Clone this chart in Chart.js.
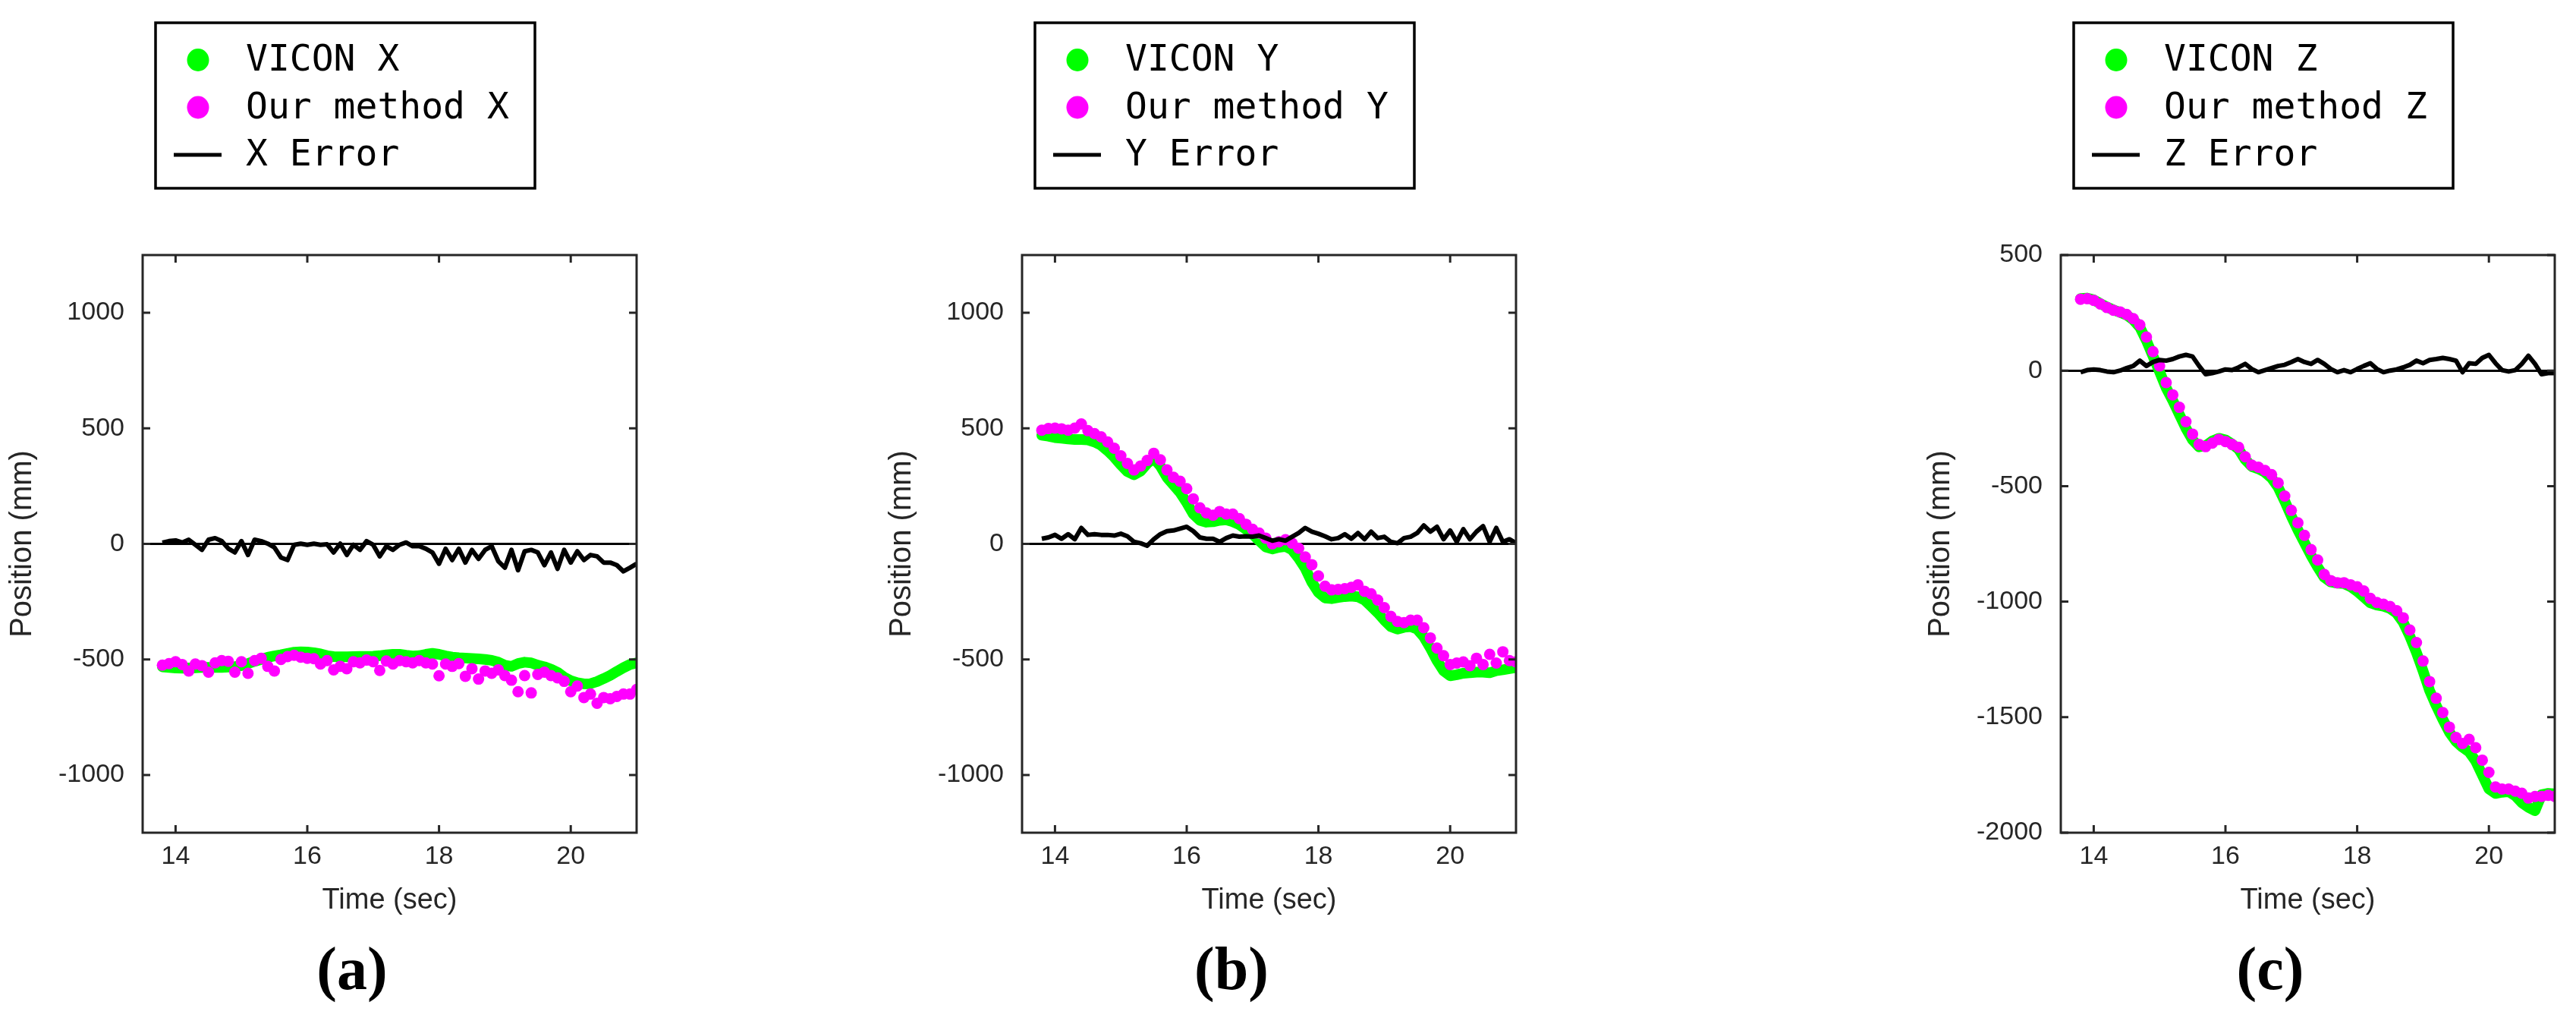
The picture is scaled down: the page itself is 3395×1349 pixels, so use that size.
<!DOCTYPE html>
<html>
<head>
<meta charset="utf-8">
<script src="https://cdn.jsdelivr.net/npm/chart.js@4.4.1/dist/chart.umd.min.js"></script>
<style>
  body { margin: 0; background: #fff; width: 3395px; height: 1349px; position: relative; overflow: hidden; }
  canvas { position: absolute; top: 0; }
</style>
</head>
<body>
<canvas id="chart-x" width="860" height="1349" style="left:0px"></canvas>
<canvas id="chart-y" width="860" height="1349" style="left:1159px"></canvas>
<canvas id="chart-z" width="860" height="1349" style="left:2528px"></canvas>
<script>
// sample times (sec), shared by all three panels
var timeSec = [13.8, 13.9, 14.0, 14.1, 14.2, 14.3, 14.4, 14.5, 14.6, 14.7,
               14.8, 14.9, 15.0, 15.1, 15.2, 15.3, 15.4, 15.5, 15.6, 15.7,
               15.8, 15.9, 16.0, 16.1, 16.2, 16.3, 16.4, 16.5, 16.6, 16.7,
               16.8, 16.9, 17.0, 17.1, 17.2, 17.3, 17.4, 17.5, 17.6, 17.7,
               17.8, 17.9, 18.0, 18.1, 18.2, 18.3, 18.4, 18.5, 18.6, 18.7,
               18.8, 18.9, 19.0, 19.1, 19.2, 19.3, 19.4, 19.5, 19.6, 19.7,
               19.8, 19.9, 20.0, 20.1, 20.2, 20.3, 20.4, 20.5, 20.6, 20.7,
               20.8, 20.9, 21.0];

// (a) X
var viconX = [-532, -535, -537, -538, -537, -536, -535, -535, -535, -535,
              -533, -531, -527, -518, -508, -500, -491, -485, -480, -474,
              -469, -467, -468, -471, -476, -484, -488, -489, -489, -488,
              -487, -487, -486, -484, -480, -478, -478, -482, -485, -484,
              -478, -474, -478, -485, -490, -493, -494, -496, -498, -500,
              -504, -512, -525, -530, -518, -512, -515, -525, -532, -542,
              -556, -577, -592, -601, -606, -605, -596, -583, -569, -552,
              -536, -522, -515];
var methodX = [-525, -518, -510, -522, -550, -520, -527, -555, -515, -505,
               -508, -555, -510, -560, -505, -495, -530, -550, -500, -488,
               -482, -490, -495, -497, -520, -505, -545, -530, -540, -510,
               -515, -503, -510, -548, -507, -520, -505, -510, -515, -505,
               -515, -520, -571, -520, -530, -518, -573, -540, -585, -550,
               -560, -545, -570, -590, -640, -570, -645, -565, -555, -570,
               -580, -595, -640, -615, -665, -650, -690, -665, -670, -660,
               -650, -650, -630];
var errorX = [5, 12, 15, 6, 18, -4, -26, 18, 25, 12,
              -20, -37, 12, -48, 18, 12, 1, -15, -59, -70,
              -4, 1, -4, 1, -4, -2, -37, 1, -48, -4,
              -26, 12, -4, -54, -10, -26, -4, 6, -10, -10,
              -21, -37, -86, -21, -70, -21, -81, -26, -65, -26,
              -10, -75, -103, -26, -114, -32, -26, -37, -92, -37,
              -108, -26, -81, -32, -70, -48, -54, -81, -81, -92,
              -119, -103, -86];

// (b) Y
var viconY = [470, 466, 460, 457, 454, 452, 452, 450, 441, 427,
              403, 375, 342, 313, 299, 315, 348, 370, 337, 288,
              255, 222, 178, 129, 102, 94, 96, 102, 104, 96,
              83, 63, 42, 14, -13, -22, -15, -11, -26, -62,
              -106, -166, -210, -234, -237, -232, -228, -226, -229, -243,
              -270, -298, -330, -358, -369, -361, -358, -369, -402, -451,
              -505, -549, -571, -566, -560, -558, -555, -555, -558, -549,
              -545, -540, -535];
var methodY = [492, 499, 501, 498, 492, 501, 519, 490, 477, 463,
               441, 414, 381, 348, 320, 337, 361, 392, 364, 320,
               288, 271, 239, 195, 156, 134, 124, 140, 129, 129,
               109, 85, 63, 47, 25, 0, 9, 18, 3, -19,
               -57, -90, -139, -183, -199, -197, -194, -188, -177, -205,
               -216, -243, -276, -314, -336, -341, -330, -330, -363, -407,
               -451, -484, -522, -516, -511, -527, -495, -522, -478, -516,
               -467, -505, -511];
var errorY = [22, 28, 39, 22, 42, 20, 69, 39, 42, 39,
              39, 36, 44, 33, 9, 3, -8, 20, 42, 55,
              58, 66, 74, 55, 28, 22, 22, 9, 25, 36,
              31, 33, 31, 36, 25, 14, 20, 14, 31, 47,
              69, 53, 44, 33, 20, 25, 42, 22, 47, 20,
              53, 25, 31, 9, 3, 25, 31, 47, 80, 53,
              74, 20, 58, 9, 64, 20, 53, 77, 9, 69,
              9, 20, 3];

// (c) Z
var viconZ = [312, 314, 306, 290, 275, 262, 252, 240, 220, 188,
              130, 62, -5, -75, -130, -190, -250, -300, -330, -325,
              -305, -293, -300, -318, -340, -385, -415, -425, -440, -465,
              -505, -565, -630, -690, -745, -800, -850, -895, -915, -920,
              -922, -935, -955, -980, -1005, -1015, -1020, -1030, -1050, -1090,
              -1150, -1220, -1300, -1385, -1450, -1510, -1565, -1605, -1630, -1650,
              -1690, -1750, -1810, -1830, -1825, -1822, -1840, -1870, -1890, -1905,
              -1835, -1830, -1832];
var methodZ = [309, 311, 304, 288, 273, 261, 254, 243, 225, 198,
               145, 82, 20, -52, -105, -159, -221, -275, -320, -329,
               -314, -298, -307, -320, -332, -373, -409, -418, -432, -450,
               -486, -543, -605, -659, -713, -775, -820, -882, -909, -918,
               -918, -927, -936, -954, -986, -1004, -1011, -1021, -1039, -1070,
               -1123, -1177, -1257, -1346, -1418, -1480, -1543, -1588, -1614, -1596,
               -1632, -1686, -1739, -1802, -1811, -1811, -1820, -1829, -1850, -1843,
               -1843, -1838, -1843];
var errorZ = [-7, 2, 5, 2, -4, -7, 0, 11, 20, 43,
              20, 37, 46, 43, 50, 61, 68, 61, 20, -16,
              -11, -4, 5, 2, 14, 29, 7, -7, 2, 11,
              20, 25, 37, 50, 37, 29, 46, 29, 7, -7,
              2, -7, 7, 20, 32, 7, -7, 0, 5, 14,
              25, 43, 32, 46, 50, 55, 50, 43, -7, 32,
              29, 55, 68, 32, 2, -4, 2, 29, 64, 29,
              -16, -11, -11];

var xTicks = [14, 16, 18, 20];
var yTicksXY = [-1000, -500, 0, 500, 1000];
var yTicksZ = [-2000, -1500, -1000, -500, 0, 500];

var textColor = '#262626';
var sansFont = 'Liberation Sans, Arial, sans-serif';

function toPoints(ts, vs) {
  var pts = [];
  for (let i = 0; i < ts.length; i++) {
    pts.push({ x: ts[i], y: vs[i] });
  }
  return pts;
}

// frame with inward ticks, boxed legend and the (a)/(b)/(c) caption
const panelDecor = {
  id: 'panelDecor',
  afterDatasetsDraw(chart) {
    const ctx = chart.ctx;
    const a = chart.chartArea;
    const tl = 10;
    ctx.save();
    ctx.strokeStyle = textColor;
    ctx.lineWidth = 3;
    ctx.beginPath();
    chart.scales.x.ticks.forEach(t => {
      const px = chart.scales.x.getPixelForValue(t.value);
      ctx.moveTo(px, a.bottom); ctx.lineTo(px, a.bottom - tl);
      ctx.moveTo(px, a.top); ctx.lineTo(px, a.top + tl);
    });
    chart.scales.y.ticks.forEach(t => {
      const py = chart.scales.y.getPixelForValue(t.value);
      ctx.moveTo(a.left, py); ctx.lineTo(a.left + tl, py);
      ctx.moveTo(a.right, py); ctx.lineTo(a.right - tl, py);
    });
    ctx.stroke();
    ctx.strokeRect(a.left, a.top, a.right - a.left, a.bottom - a.top);
    ctx.restore();
  },
  afterDraw(chart, args, opts) {
    const ctx = chart.ctx;
    const a = chart.chartArea;
    const bx = a.left + opts.legendOffset, by = opts.legendTop;
    ctx.save();
    ctx.strokeStyle = '#000';
    ctx.lineWidth = 3.5;
    ctx.strokeRect(bx, by, opts.legendWidth, opts.legendHeight);
    ctx.font = '48px "DejaVu Sans Mono", monospace';
    ctx.textBaseline = 'middle';
    ctx.fillStyle = '#000';
    chart.data.datasets.forEach((ds, i) => {
      const cy = by + 49 + i * 62.5;
      if (ds.legendMarker === 'line') {
        ctx.strokeStyle = ds.borderColor;
        ctx.lineWidth = 5;
        ctx.beginPath();
        ctx.moveTo(bx + 24, cy); ctx.lineTo(bx + 87, cy);
        ctx.stroke();
      } else {
        ctx.fillStyle = ds.legendColor;
        ctx.beginPath();
        ctx.ellipse(bx + 56, cy, 14.5, 15, 0, 0, Math.PI * 2);
        ctx.fill();
      }
      ctx.fillStyle = '#000';
      ctx.fillText(ds.label, bx + 119, cy + 2);
    });
    ctx.font = 'bold 80px "Liberation Serif", "Times New Roman", serif';
    ctx.textAlign = 'center';
    ctx.textBaseline = 'alphabetic';
    ctx.fillText(opts.caption, a.left + 276, 1303);
    ctx.restore();
  }
};

function positionChart(id, axisName, vicon, method, err, yMin, yMax, yTicks, caption) {
  const ctx = document.getElementById(id);
  return new Chart(ctx, {
    type: 'line',
    data: {
      datasets: [{
        label: 'VICON ' + axisName,
        data: toPoints(timeSec, vicon),
        borderColor: '#00ff00',
        legendColor: '#00ff00',
        legendMarker: 'dot',
        borderWidth: 14,
        borderCapStyle: 'round',
        borderJoinStyle: 'round',
        pointRadius: 0,
        order: 3
      }, {
        label: 'Our method ' + axisName,
        data: toPoints(timeSec, method),
        showLine: false,
        legendColor: '#ff00ff',
        legendMarker: 'dot',
        pointRadius: 7.5,
        pointBorderWidth: 0,
        pointBackgroundColor: '#ff00ff',
        order: 2
      }, {
        label: axisName + ' Error',
        data: toPoints(timeSec, err),
        borderColor: '#000000',
        legendMarker: 'line',
        borderWidth: 6,
        borderJoinStyle: 'round',
        pointRadius: 0,
        order: 1
      }]
    },
    options: {
      responsive: false,
      animation: false,
      devicePixelRatio: 1,
      layout: { padding: { top: 336, left: 0, right: 21, bottom: 92 } },
      plugins: {
        legend: { display: false },
        tooltip: { enabled: false },
        panelDecor: { caption: caption, legendOffset: 17, legendTop: 30, legendWidth: 500, legendHeight: 218 }
      },
      scales: {
        x: {
          type: 'linear',
          min: 13.5,
          max: 21,
          afterBuildTicks: s => { s.ticks = xTicks.map(v => ({ value: v })); },
          afterFit: s => { s.height = 160; },
          grid: { display: false, drawTicks: false },
          border: { display: false },
          ticks: { padding: 11, color: textColor, font: { family: sansFont, size: 34 } },
          title: {
            display: true, text: 'Time (sec)', color: textColor,
            font: { family: sansFont, size: 38 }, padding: { top: 0, bottom: 48 }
          }
        },
        y: {
          min: yMin,
          max: yMax,
          afterBuildTicks: s => { s.ticks = yTicks.map(v => ({ value: v })); },
          afterFit: s => { s.width = 188; },
          grid: {
            drawTicks: false,
            lineWidth: 3,
            color: c => (c.tick && c.tick.value === 0) ? '#000000' : 'rgba(0,0,0,0)'
          },
          border: { display: false },
          ticks: { padding: 24, color: textColor, font: { family: sansFont, size: 34 }, callback: v => String(v) },
          title: {
            display: true, text: 'Position (mm)', color: textColor,
            font: { family: sansFont, size: 40 }, padding: { top: 6, bottom: 0 }
          }
        }
      }
    },
    plugins: [panelDecor]
  });
}

positionChart('chart-x', 'X', viconX, methodX, errorX, -1250, 1250, yTicksXY, '(a)');
positionChart('chart-y', 'Y', viconY, methodY, errorY, -1250, 1250, yTicksXY, '(b)');
positionChart('chart-z', 'Z', viconZ, methodZ, errorZ, -2000, 500, yTicksZ, '(c)');
</script>
</body>
</html>
